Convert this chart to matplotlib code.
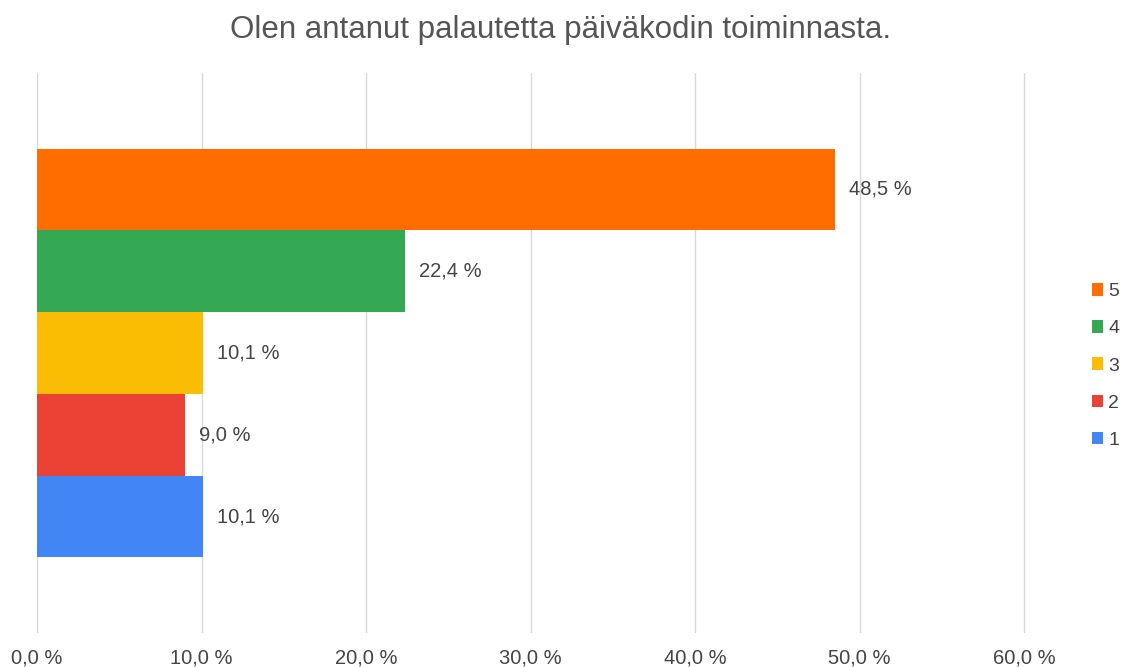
import numpy as np
from matplotlib import pyplot as plt
from matplotlib.ticker import FuncFormatter

plt.rcParams['font.family'] = ['Liberation Sans', 'DejaVu Sans']

otsikko = 'Olen antanut palautetta päiväkodin toiminnasta.'
vastaukset = ['5', '4', '3', '2', '1']
osuudet = [48.5, 22.4, 10.1, 9.0, 10.1]
varit = ['#FF6D01', '#34A853', '#FBBC04', '#EA4335', '#4285F4']


def pilkku(v, pos=None):
  return ('%.1f %%' % v).replace('.', ',')


fig = plt.figure(figsize=(11.22, 6.67), dpi=100)
xmax = 60.1
ax = fig.add_axes([37/1122, 1 - 633/667, (1024 - 37)/1122 * xmax/60, 560/667])

paikat = np.arange(len(vastaukset))[::-1] + 1
palkit = []
for y, arvo, vari, nimi in zip(paikat, osuudet, varit, vastaukset):
  b = ax.barh(y, arvo, height=1.0, color=vari, label=nimi, zorder=2)
  palkit.append(b)
  ax.annotate(pilkku(arvo), (arvo, y), xytext=(10, 0), textcoords='offset points',
              va='center', ha='left', fontsize=14.5, color='#444444', zorder=3)

ax.set_xlim(0, xmax)
ax.set_ylim(-0.425, 6.425)
ax.set_xticks(np.arange(0, 61, 10))
ax.xaxis.set_major_formatter(FuncFormatter(pilkku))
ax.set_yticks([])
ax.tick_params(axis='x', length=0, pad=11, labelsize=14.5, labelcolor='#444444')
ax.grid(axis='x', color='#d9d9d9', linewidth=1, zorder=0)
for s in ax.spines.values():
  s.set_visible(False)

fig.legend(handles=palkit, labels=vastaukset, loc='center left',
           bbox_to_anchor=(1084/1122, 1 - 366/667), frameon=False,
           fontsize=14, labelcolor='#444444', handlelength=0.6, handleheight=0.6,
           handletextpad=0.25, labelspacing=1.03, borderaxespad=0)

fig.text(0.5, 1 - 30/667, otsikko, ha='center', va='center', fontsize=22.5, color='#555555')

fig.savefig('out.png', dpi=100)
